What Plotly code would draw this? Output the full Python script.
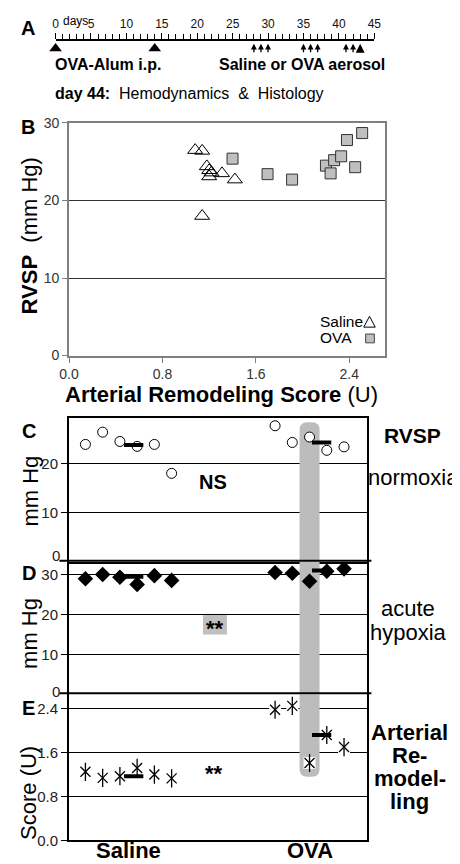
import plotly.graph_objects as go
import numpy as np

W, H = 460, 864
FONT = "Liberation Sans, Arial, Helvetica, sans-serif"

# ---------------- data ----------------
# Panel A: protocol timeline (days)
ip_days = [0, 14]
aerosol_days = [28, 29, 30, 35, 36, 37, 41, 42, 43]

# Panel B: RVSP vs arterial remodeling score
saline_score_b = [1.08, 1.14, 1.18, 1.20, 1.22, 1.20, 1.31, 1.42, 1.14]
saline_rvsp_b = [26.5, 26.4, 24.4, 23.9, 23.6, 23.1, 23.5, 22.7, 18.0]
ova_score_b = [1.40, 1.70, 1.91, 2.20, 2.24, 2.27, 2.33, 2.38, 2.45, 2.51]
ova_rvsp_b = [25.4, 23.4, 22.7, 24.5, 23.5, 25.2, 25.7, 27.8, 24.3, 28.7]

# Panels C-E: individual mice
groups = ["Saline", "OVA"]
saline_x = [1, 2, 3, 4, 5, 6]
ova_x = [12, 13, 14, 15, 16]
saline_rvsp = [23.9, 26.4, 24.5, 23.5, 23.9, 18.0]
ova_rvsp = [27.7, 24.3, 25.4, 22.7, 23.4]
saline_hyp = [29.0, 30.1, 29.4, 27.6, 29.8, 28.6]
ova_hyp = [30.6, 30.4, 28.4, 30.9, 31.5]
saline_rem = [1.25, 1.14, 1.17, 1.32, 1.20, 1.13]
ova_rem = [2.38, 2.45, 1.41, 1.92, 1.70]
mean_x = [3.8, 14.7]
mean_rvsp = [23.8, 24.3]
mean_hyp = [29.5, 31.1]
mean_rem = [1.17, 1.92]

# ---------------- helpers ----------------
def PX(p):
    return p / W


def PY(p):
    return 1 - p / H


fig = go.Figure()

# ---- Panel B ----
fig.add_trace(go.Scatter(x=saline_score_b, y=saline_rvsp_b, mode="markers", xaxis="x", yaxis="y",
                         marker=dict(symbol="triangle-up-open", size=13, color="black",
                                     line=dict(color="black", width=1))))
fig.add_trace(go.Scatter(x=ova_score_b, y=ova_rvsp_b, mode="markers", xaxis="x", yaxis="y",
                         marker=dict(symbol="square", size=11, color="#bfbfbf",
                                     line=dict(color="#333333", width=1))))


def mean_segments(mx, my, half=0.56):
    xs, ys = [], []
    for a, b in zip(mx, my):
        xs += [a - half, a + half, None]
        ys += [b, b, None]
    return xs, ys


# ---- Panel C ----
for xs, ys in [(saline_x, saline_rvsp), (ova_x, ova_rvsp)]:
    fig.add_trace(go.Scatter(x=xs, y=ys, mode="markers", xaxis="x2", yaxis="y2",
                             marker=dict(symbol="circle", size=10, color="white",
                                         line=dict(color="black", width=1))))
mx, my = mean_segments(mean_x, mean_rvsp)
fig.add_trace(go.Scatter(x=mx, y=my, mode="lines", xaxis="x2", yaxis="y2",
                         line=dict(color="black", width=4)))

# ---- Panel D ----
for xs, ys in [(saline_x, saline_hyp), (ova_x, ova_hyp)]:
    fig.add_trace(go.Scatter(x=xs, y=ys, mode="markers", xaxis="x3", yaxis="y3",
                             marker=dict(symbol="diamond", size=12, color="black",
                                         line=dict(color="black", width=0))))
mx, my = mean_segments(mean_x, mean_hyp)
fig.add_trace(go.Scatter(x=mx, y=my, mode="lines", xaxis="x3", yaxis="y3",
                         line=dict(color="black", width=4)))

# ---- Panel E ----
for xs, ys in [(saline_x, saline_rem), (ova_x, ova_rem)]:
    fig.add_trace(go.Scatter(x=xs, y=ys, mode="markers", xaxis="x4", yaxis="y4",
                             marker=dict(symbol="square", size=12, color="white",
                                         line=dict(width=0))))
    fig.add_trace(go.Scatter(x=xs, y=ys, mode="markers", xaxis="x4", yaxis="y4",
                             marker=dict(symbol="x-thin-open", size=10, color="black",
                                         line=dict(color="black", width=1.3))))
    fig.add_trace(go.Scatter(x=xs, y=ys, mode="markers", xaxis="x4", yaxis="y4",
                             marker=dict(symbol="line-ns-open", size=13, color="black",
                                         line=dict(color="black", width=1.3))))
mx, my = mean_segments(mean_x, mean_rem)
fig.add_trace(go.Scatter(x=mx, y=my, mode="lines", xaxis="x4", yaxis="y4",
                         line=dict(color="black", width=4)))

# ---- Panel A timeline ----
fig.add_trace(go.Scatter(x=ip_days, y=[0] * len(ip_days), mode="markers", xaxis="x5", yaxis="y5",
                         cliponaxis=False,
                         marker=dict(symbol="triangle-up", size=11, color="black")))

# ---------------- axes ----------------
XR = [0.05, 17.31]
common_line = dict(showline=True, linecolor="black", linewidth=2, zeroline=False)

fig.update_layout(
    width=W, height=H, margin=dict(l=0, r=0, t=0, b=0),
    paper_bgcolor="white", plot_bgcolor="white", showlegend=False,
    font=dict(family=FONT, color="black"),
    # B
    xaxis=dict(domain=[PX(53), PX(381)], anchor="y", range=[0, 2.705],
               tickvals=[0, 0.8, 1.6, 2.4], tickformat=".1f",
               showline=True, linecolor="#808080", linewidth=2, mirror=True,
               ticks="outside", ticklen=5, tickcolor="#808080",
               showgrid=False, zeroline=False, tickfont=dict(size=14, color="#333")),
    yaxis=dict(domain=[PY(346), PY(109)], anchor="x", range=[0, 30],
               tickvals=[0, 10, 20, 30],
               showline=True, linecolor="#808080", linewidth=2, mirror=True,
               ticks="outside", ticklen=5, tickcolor="#808080",
               showgrid=True, gridcolor="#333333", gridwidth=1, zeroline=False,
               tickfont=dict(size=14, color="#333")),
    # C
    xaxis2=dict(domain=[PX(53), PX(362)], anchor="y2", range=XR, mirror=True,
                showticklabels=False, ticks="", showgrid=False, **common_line),
    yaxis2=dict(domain=[PY(556), PY(410)], anchor="x2", range=[0, 29.2], tickvals=[10, 20],
                mirror=True, ticks="outside", ticklen=6, tickcolor="black",
                showgrid=True, gridcolor="black", gridwidth=1,
                tickfont=dict(size=15, color="#222"), **common_line),
    # D
    xaxis3=dict(domain=[PX(53), PX(362)], anchor="y3", range=XR, showline=False,
                showticklabels=False, ticks="", showgrid=False, zeroline=False),
    yaxis3=dict(domain=[PY(691), PY(556)], anchor="x3", range=[0, 33.3], tickvals=[10, 20, 30],
                mirror=True, ticks="outside", ticklen=6, tickcolor="black",
                showgrid=True, gridcolor="black", gridwidth=1,
                tickfont=dict(size=15, color="#222"), **common_line),
    # E
    xaxis4=dict(domain=[PX(53), PX(362)], anchor="y4", range=XR, mirror=False,
                showticklabels=False, ticks="", showgrid=False, **common_line),
    yaxis4=dict(domain=[PY(840), PY(691)], anchor="x4", range=[0, 2.663],
                tickvals=[0, 0.8, 1.6, 2.4], tickformat=".1f",
                mirror=True, ticks="outside", ticklen=6, tickcolor="black",
                showgrid=True, gridcolor="black", gridwidth=1,
                tickfont=dict(size=15, color="#222"), **common_line),
    # A timeline
    xaxis5=dict(domain=[PX(39), PX(370)], anchor="y5", side="top", range=[0, 45],
                tick0=0, dtick=5, showline=True, linecolor="black", linewidth=1.5,
                ticks="outside", ticklen=6, tickwidth=1, tickcolor="black",
                minor=dict(ticks="outside", dtick=1, ticklen=5, tickwidth=1, tickcolor="black"),
                showgrid=False, zeroline=False, tickfont=dict(size=12, color="#111")),
    yaxis5=dict(domain=[PY(41), PY(25)], anchor="x5", range=[-1, 1], visible=False),
)

# ---------------- shapes ----------------
shapes = []
band_x = ova_x[int(np.argmin(ova_rem))]
BH = 0.58
x0, x1 = band_x - BH, band_x + BH
rx = 0.45
BAND = "#bcbcbc"
# C piece (rounded top)
yt, ry = 28.4, 1.6
shapes.append(dict(type="path", xref="x2", yref="y2", layer="between", fillcolor=BAND, line=dict(width=0),
                   path=f"M{x0},0 L{x0},{yt-ry} Q{x0},{yt} {x0+rx},{yt} L{x1-rx},{yt} Q{x1},{yt} {x1},{yt-ry} L{x1},0 Z"))
# D piece
shapes.append(dict(type="rect", xref="x3", yref="y3", layer="between", fillcolor=BAND, line=dict(width=0),
                   x0=x0, x1=x1, y0=0, y1=33.3))
# E piece (rounded bottom)
yb, ry = 1.16, 0.143
shapes.append(dict(type="path", xref="x4", yref="y4", layer="between", fillcolor=BAND, line=dict(width=0),
                   path=f"M{x0},2.663 L{x0},{yb+ry} Q{x0},{yb} {x0+rx},{yb} L{x1-rx},{yb} Q{x1},{yb} {x1},{yb+ry} L{x1},2.663 Z"))
# ** box in D
shapes.append(dict(type="rect", xref="x3", yref="y3", layer="between", fillcolor="#c0c0c0", line=dict(width=0),
                   x0=7.82, x1=9.21, y0=15.0, y1=19.9))
# thick separators
for yr in ["y2", "y3"]:
    shapes.append(dict(type="line", xref="paper", yref=yr, layer="above", x0=PX(43), x1=PX(367), y0=0, y1=0,
                       line=dict(color="black", width=4)))
# legend keys in B
shapes.append(dict(type="path", xref="paper", yref="paper", layer="above", line=dict(color="black", width=1),
                   path=f"M{PX(359)},{PY(317)} L{PX(371)},{PY(317)} L{PX(365)},{PY(306)} Z"))
shapes.append(dict(type="rect", xref="paper", yref="paper", layer="above", fillcolor="#bfbfbf",
                   line=dict(color="#444", width=1), x0=PX(361), x1=PX(370), y0=PY(333), y1=PY(324)))
fig.update_layout(shapes=shapes)

# ---------------- annotations ----------------
anns = []


def ann(text, x, y, size, xanchor="center", yanchor="middle", angle=0, color="black"):
    anns.append(dict(text=text, x=PX(x), y=PY(y), xref="paper", yref="paper", showarrow=False,
                     xanchor=xanchor, yanchor=yanchor, textangle=angle,
                     font=dict(size=size, color=color, family=FONT)))


# panel letters
ann("<b>A</b>", 1, 12, 20, xanchor="left")
ann("<b>B</b>", 1, 113, 20, xanchor="left")
ann("<b>C</b>", 2, 423, 20, xanchor="left")
ann("<b>D</b>", 2, 567, 20, xanchor="left")
ann("<b>E</b>", 2, 705, 20, xanchor="left")

# panel A text
ann("days", 45, 5, 12, xanchor="left")
ann("<b>OVA-Alum i.p.</b>", 36, 49, 16, xanchor="left")
ann("<b>Saline or OVA aerosol</b>", 207, 49, 16, xanchor="left")
ann("<b>day 44:</b>\u00a0 Hemodynamics \u00a0&\u00a0 Histology", 36, 79, 16, xanchor="left")

# panel B titles
ann("<b>Arterial Remodeling Score</b> (U)", 211, 386, 22)
ann("<b>RVSP</b>\u00a0 (mm Hg)", 12, 224, 22, angle=-90)
ann("Saline", 311, 311, 15.5, xanchor="left")
ann("OVA", 311, 328, 15.5, xanchor="left")

# C-E y titles
ann("mm Hg", 12, 484, 22, angle=-90)
ann("mm Hg", 12, 629, 22, angle=-90)
ann("Score (U)", 11, 792, 22, angle=-90)

# "0" labels above separators
anns.append(dict(text="0", x=PX(46), y=0, xref="paper", yref="y2", yshift=6, showarrow=False,
                 xanchor="right", yanchor="middle", font=dict(size=15, color="#222")))
anns.append(dict(text="0", x=PX(46), y=0, xref="paper", yref="y3", yshift=3, showarrow=False,
                 xanchor="right", yanchor="middle", font=dict(size=15, color="#222")))

# right-side labels
ann("<b>RVSP</b>", 410, 427, 21)
ann("normoxia", 411, 470, 22)
ann("acute", 405, 604, 22)
ann("hypoxia", 406, 628, 22)
ann("<b>Arterial</b>", 407, 730, 22)
ann("<b>Re-</b>", 407, 753, 22)
ann("<b>model-</b>", 407, 777, 22)
ann("<b>ling</b>", 407, 800, 22)

# group labels under E
group_centers = [float(np.mean(saline_x)), float(np.mean(ova_x))]
for g, c in zip(groups, group_centers):
    anns.append(dict(text=f"<b>{g}</b>", x=c, y=0, xref="x4", yref="paper", showarrow=False,
                     xanchor="center", yanchor="bottom", borderpad=0,
                     font=dict(size=22, color="black")))

# significance labels
anns.append(dict(text="<b>NS</b>", x=8.4, y=16.2, xref="x2", yref="y2", showarrow=False,
                 font=dict(size=20, color="black")))
anns.append(dict(text="<b>**</b>", x=8.5, y=16.6, xref="x3", yref="y3", showarrow=False,
                 font=dict(size=22, color="black")))
anns.append(dict(text="<b>**</b>", x=8.43, y=1.215, xref="x4", yref="y4", showarrow=False,
                 font=dict(size=22, color="black")))

# aerosol arrows on timeline
for d in aerosol_days:
    anns.append(dict(text="", x=d, y=0.6, xref="x5", yref="y5", ax=0, ay=10, showarrow=True,
                     arrowhead=2, arrowsize=0.9, arrowwidth=2 if d == aerosol_days[-1] else 1.3,
                     arrowcolor="black"))

fig.update_layout(annotations=anns)

fig.write_html("out.html")
